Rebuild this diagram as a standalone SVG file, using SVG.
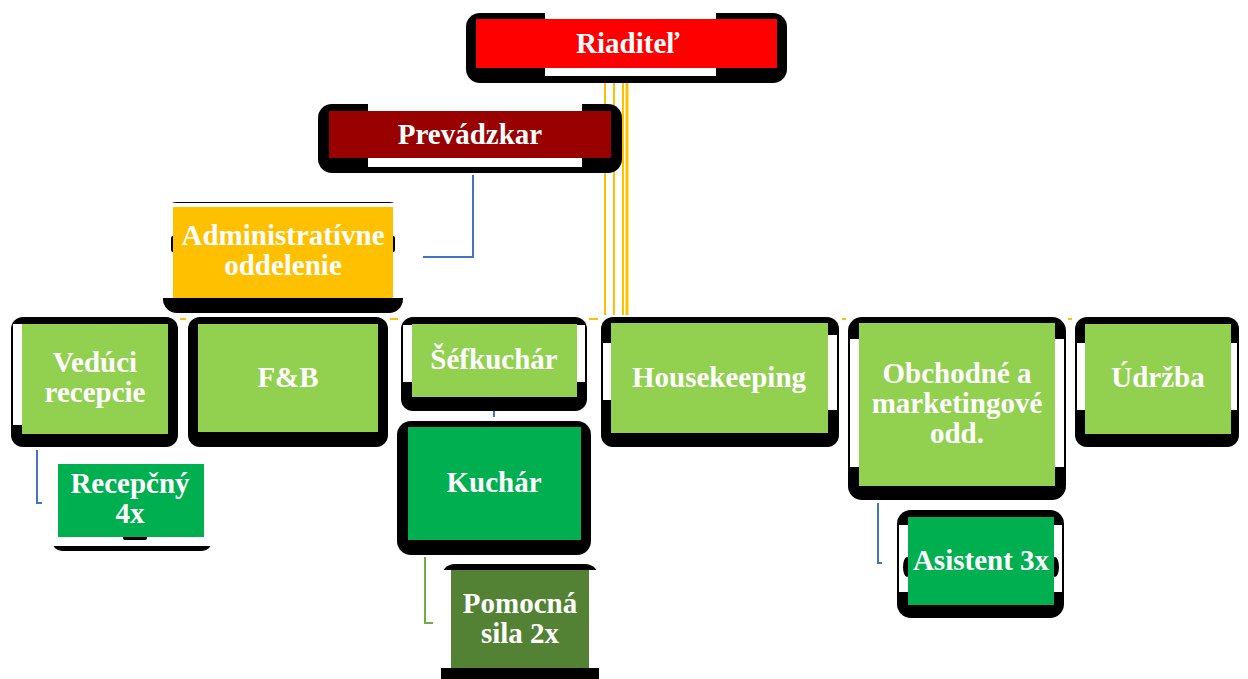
<svg xmlns="http://www.w3.org/2000/svg" width="1248" height="679" viewBox="0 0 1248 679">
<style>
.sh{fill:#000}
.wh{fill:#fff}
.t{font-family:"Liberation Serif","Times New Roman",serif;font-weight:bold;font-size:29px;fill:#fff;text-anchor:middle}
.lg{fill:#92D050}
.dg{fill:#00B050}
.bl{fill:none;stroke:#4472C4;stroke-width:2}
.or{fill:none;stroke:#FFC000;stroke-width:2}
</style>
<rect width="1248" height="679" fill="#fff"/>
<g id="connectors">
<line class="or" x1="180" y1="319" x2="186" y2="319"/>
<line class="or" x1="390" y1="319" x2="398" y2="319"/>
<line class="or" x1="589" y1="319" x2="598" y2="319"/>
<line class="or" x1="842" y1="319" x2="846" y2="319"/>
<line class="or" x1="1068" y1="319" x2="1072" y2="319"/>
<line class="or" x1="605" y1="83" x2="605" y2="315"/>
<line class="or" x1="614" y1="83" x2="614" y2="315"/>
<line class="or" x1="623" y1="83" x2="623" y2="315"/>
<line class="or" x1="627" y1="83" x2="627" y2="315" style="stroke-width:3"/>
<polyline class="bl" points="473,175 473,257 423,257"/>
<line class="bl" x1="494" y1="411" x2="494" y2="417"/>
<polyline class="bl" points="37,450 37,503 42,503"/>
<polyline class="bl" points="878,503 878,563 882,563"/>
<polyline fill="none" stroke="#70AD47" stroke-width="2" points="425,557 425,623 433,623"/>
</g>
<g id="riaditel">
<rect class="sh" x="466" y="13" width="321" height="70" rx="14"/>
<rect class="wh" x="545" y="12" width="171" height="64"/>
<rect x="476" y="19" width="301" height="49" fill="#FF0000"/>
<text class="t" x="628" y="53">Riaditeľ</text>
</g>
<g id="prevadzkar">
<rect class="sh" x="318" y="104" width="304" height="69" rx="14"/>
<rect class="wh" x="368" y="103" width="214" height="64"/>
<rect x="329" y="111" width="282" height="47" fill="#990000"/>
<text class="t" x="470" y="144">Prevádzkar</text>
</g>
<g id="admin">
<rect class="sh" x="163" y="202" width="240" height="111" rx="14"/>
<rect class="wh" x="162" y="203" width="242" height="95"/>
<rect class="sh" x="171" y="236" width="4" height="16" rx="2"/>
<rect class="sh" x="391" y="236" width="4" height="16" rx="2"/>
<rect x="173" y="207" width="220" height="91" fill="#FFC000"/>
<text class="t" x="283" y="245">Administratívne</text>
<text class="t" x="283" y="275">oddelenie</text>
</g>
<g id="veduci">
<rect class="sh" x="11" y="317" width="167" height="130" rx="12"/>
<rect class="wh" x="13" y="324" width="9" height="101"/>
<rect class="lg" x="22" y="324" width="146" height="110"/>
<text class="t" x="95" y="372">Vedúci</text>
<text class="t" x="95" y="402">recepcie</text>
</g>
<g id="fb">
<rect class="sh" x="188" y="317" width="200" height="130" rx="12"/>
<rect class="lg" x="198" y="324" width="180" height="108"/>
<text class="t" x="288" y="387">F&amp;B</text>
</g>
<g id="sefkuchar">
<rect class="sh" x="401" y="317" width="186" height="94" rx="12"/>
<rect class="wh" x="403" y="325" width="9" height="57"/>
<rect class="wh" x="577" y="325" width="8" height="57"/>
<rect class="lg" x="412" y="324" width="165" height="73"/>
<text class="t" x="494" y="369">Šéfkuchár</text>
</g>
<g id="housekeeping">
<rect class="sh" x="601" y="317" width="238" height="130" rx="12"/>
<rect class="wh" x="603" y="343" width="8" height="57"/>
<rect class="wh" x="828" y="335" width="9" height="75"/>
<rect class="lg" x="611" y="323" width="217" height="110"/>
<text class="t" x="719" y="387">Housekeeping</text>
</g>
<g id="obchodne">
<rect class="sh" x="848" y="317" width="218" height="183" rx="14"/>
<rect class="wh" x="850" y="339" width="9" height="128"/>
<rect class="wh" x="1055" y="339" width="9" height="128"/>
<rect class="lg" x="859" y="323" width="196" height="163"/>
<text class="t" x="957" y="383">Obchodné a</text>
<text class="t" x="957" y="413">marketingové</text>
<text class="t" x="957" y="443">odd.</text>
</g>
<g id="udrzba">
<rect class="sh" x="1075" y="317" width="164" height="130" rx="12"/>
<rect class="wh" x="1077" y="343" width="8" height="67"/>
<rect class="wh" x="1231" y="343" width="6" height="67"/>
<rect class="lg" x="1085" y="324" width="146" height="110"/>
<text class="t" x="1158" y="387">Údržba</text>
</g>
<g id="kuchar">
<rect class="sh" x="397" y="421" width="194" height="134" rx="14"/>
<rect class="dg" x="408" y="427" width="173" height="113"/>
<text class="t" x="494" y="492">Kuchár</text>
</g>
<g id="pomocna">
<rect class="sh" x="441" y="564" width="158" height="130" rx="14"/>
<rect class="wh" x="440" y="570" width="160" height="98"/>
<rect x="451" y="570" width="138" height="98" fill="#548235"/>
<text class="t" x="520" y="613">Pomocná</text>
<text class="t" x="520" y="643">sila 2x</text>
</g>
<g id="recepcny">
<rect class="sh" x="52" y="460" width="160" height="91" rx="10"/>
<rect class="wh" x="50" y="455" width="164" height="91"/>
<rect class="sh" x="123" y="536" width="24" height="4" rx="2"/>
<rect class="dg" x="58" y="464" width="146" height="73"/>
<text class="t" x="130" y="493">Recepčný</text>
<text class="t" x="130" y="523">4x</text>
</g>
<g id="asistent">
<rect class="sh" x="897" y="510" width="167" height="108" rx="14"/>
<rect class="wh" x="899" y="525" width="9" height="67"/>
<rect class="wh" x="1054" y="525" width="8" height="67"/>
<ellipse class="sh" cx="907" cy="567" rx="4" ry="10"/>
<ellipse class="sh" cx="1055" cy="567" rx="4" ry="10"/>
<rect class="dg" x="908" y="517" width="146" height="88"/>
<text class="t" x="981" y="570">Asistent 3x</text>
</g>
</svg>
